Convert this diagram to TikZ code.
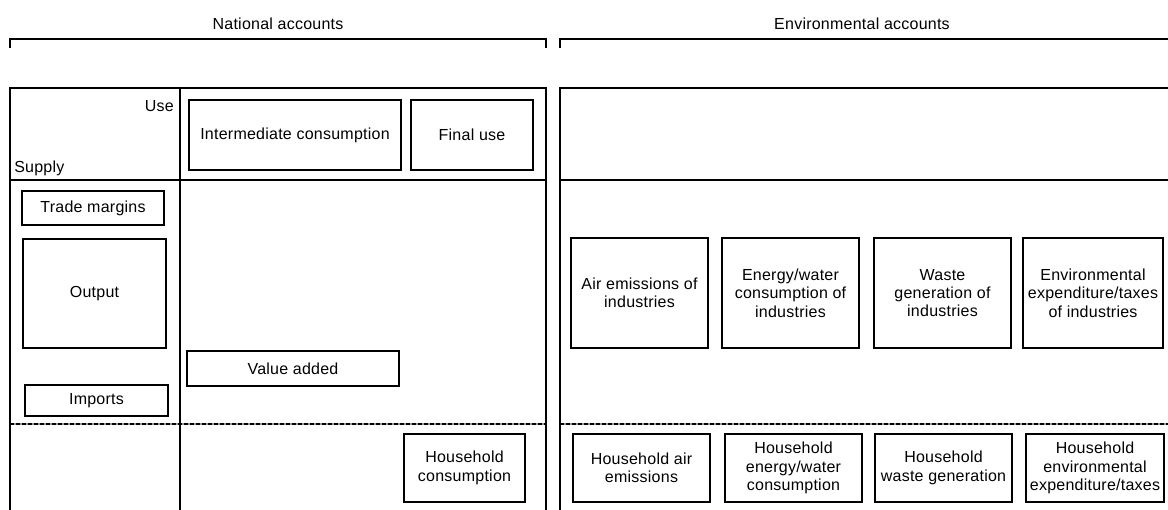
\documentclass[tikz,border=0pt]{standalone}
\usepackage{fontspec}
\setmainfont[LetterSpace=1.5]{Liberation Sans}
\newcommand\bxnode[6]{\node[bx, minimum width={(#4-#2)*0.75pt}, minimum height={(#5-#3)*0.75pt}] (#1) at ({(#2+#4)/2},{(#3+#5)/2}) {#6};}
\begin{document}
\begin{tikzpicture}[x=0.75pt,y=-0.75pt,
  every node/.style={font=\fontsize{12}{13.8}\selectfont},
  frame/.style={line width=1.5pt},
  bx/.style={draw, line width=1pt, inner sep=0pt, align=center},
  lbl/.style={inner sep=0pt},
  dashbase/.style={line width=1.6pt, black!40},
  dashtop/.style={line width=1.3pt, black, dash pattern=on 3pt off 1.5pt}]
\useasboundingbox (0,0) rectangle (1168,510);
% brackets
\draw[frame] (10,48) -- (10,39) -- (546,39) -- (546,48);
\draw[frame] (560,48) -- (560,39) -- (1168,39);
\node[lbl] (na) at (278,24) {National accounts};
\node[lbl] (ea) at (862,24) {Environmental accounts};
% left frame
\draw[frame] (10,510) -- (10,88) -- (546,88) -- (546,510);
\draw[frame] (180,88) -- (180,510);
\draw[frame] (10,180) -- (546,180);
% right frame
\draw[frame] (560,510) -- (560,88) -- (1168,88);
\draw[frame] (560,180) -- (1168,180);
% dashed separators
\draw[dashbase] (10,424) -- (546,424);
\draw[dashtop] (10,424) -- (546,424);
\draw[dashbase] (560,424) -- (1168,424);
\draw[dashtop] (560,424) -- (1168,424);
% header labels
\node[lbl, anchor=base east] (use) at (174,112) {Use};
\node[lbl, anchor=base west] (supply) at (14,172) {Supply};
% national accounts boxes
\bxnode{ic}{189}{100}{401}{170}{Intermediate consumption}
\bxnode{fu}{411}{100}{533}{170}{Final use}
\bxnode{tm}{22}{191}{164}{225}{Trade margins}
\bxnode{out}{23}{239}{166}{348}{Output}
\bxnode{va}{187}{351}{399}{386}{Value added}
\bxnode{im}{25}{385}{168}{416}{Imports}
\bxnode{hc}{404}{434}{525}{502}{Household\\consumption}
% environmental accounts boxes
\bxnode{air}{571}{238}{708}{348}{Air emissions of\\industries}
\bxnode{ew}{722}{238}{859}{348}{Energy/water\\consumption of\\industries}
\bxnode{ws}{874}{238}{1011}{348}{Waste\\generation of\\industries}
\bxnode{env}{1023}{238}{1163}{348}{Environmental\\expenditure/taxes\\of industries}
\bxnode{hair}{573}{434}{710}{502}{Household air\\emissions}
\bxnode{hew}{725}{434}{862}{502}{Household\\energy/water\\consumption}
\bxnode{hws}{875}{434}{1012}{502}{Household\\waste generation}
\bxnode{henv}{1026}{434}{1164}{502}{Household\\environmental\\expenditure/taxes}
\end{tikzpicture}
\end{document}
